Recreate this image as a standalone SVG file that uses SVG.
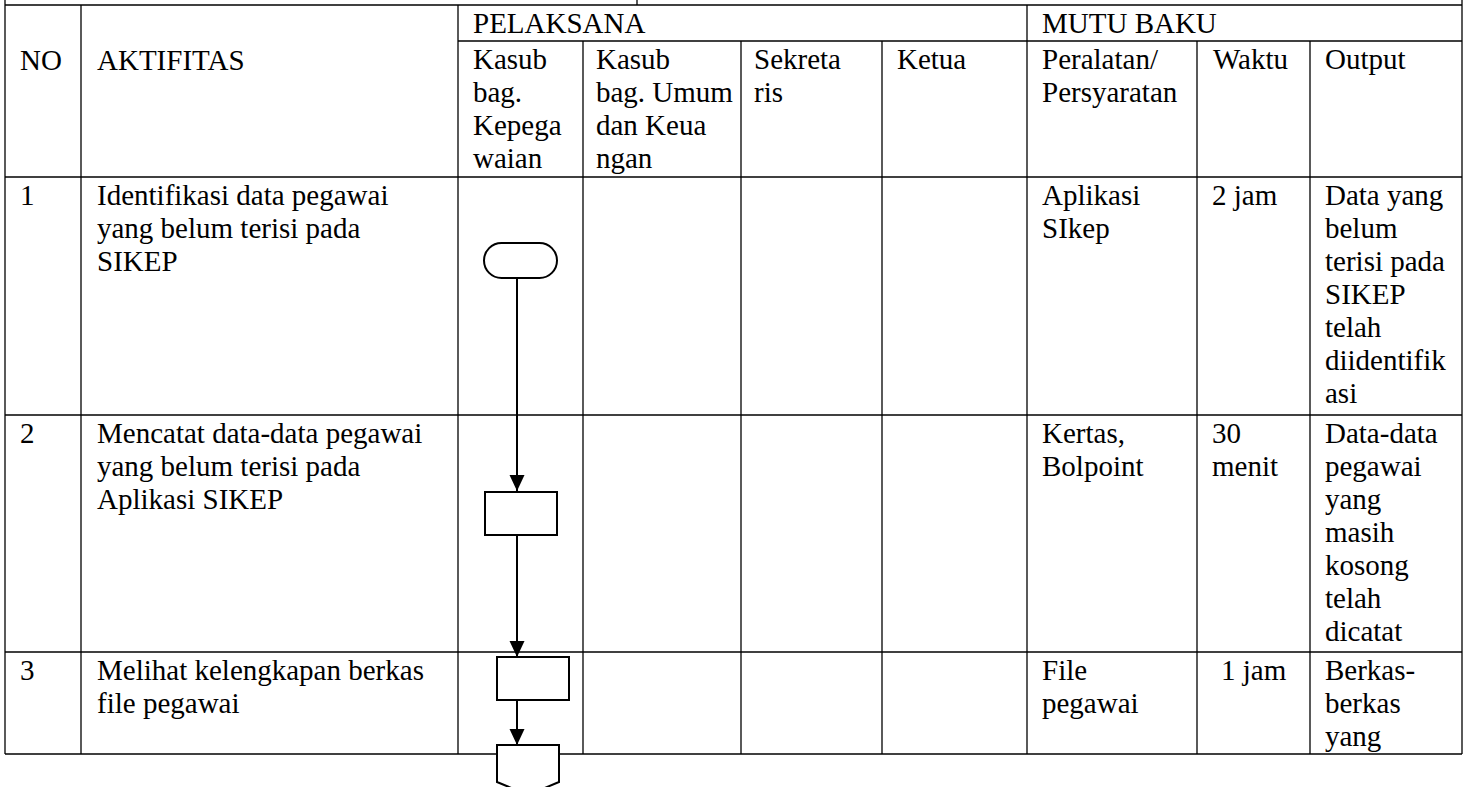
<svg xmlns="http://www.w3.org/2000/svg" width="1469" height="787" viewBox="0 0 1469 787">
<style>
.t{font-family:"Liberation Serif","Times New Roman",serif;font-size:29px;fill:#000}
.g{stroke:#000;stroke-width:1.3;fill:none}
.s{stroke:#000;stroke-width:2;fill:#fff}
.c{stroke:#000;stroke-width:2;fill:none}
</style>
<defs>
<marker id="ah" markerUnits="userSpaceOnUse" markerWidth="16" markerHeight="16" refX="16" refY="7.5" orient="auto">
<path d="M0,0 L16,7.5 L0,15 z" fill="#000"/>
</marker>
</defs>
<rect width="1469" height="787" fill="#fff"/>
<g id="table" class="g">
<line x1="5" y1="0" x2="5" y2="754"/>
<line x1="1462" y1="0" x2="1462" y2="754"/>
<line x1="637" y1="0" x2="637" y2="5"/>
<line x1="5" y1="5" x2="1462" y2="5"/>
<line x1="458" y1="41" x2="1462" y2="41"/>
<line x1="5" y1="177" x2="1462" y2="177"/>
<line x1="5" y1="415" x2="1462" y2="415"/>
<line x1="5" y1="652" x2="1462" y2="652"/>
<line x1="5" y1="754" x2="1462" y2="754"/>
<line x1="81" y1="5" x2="81" y2="754"/>
<line x1="458" y1="5" x2="458" y2="754"/>
<line x1="1027" y1="5" x2="1027" y2="754"/>
<line x1="583" y1="41" x2="583" y2="754"/>
<line x1="741" y1="41" x2="741" y2="754"/>
<line x1="882" y1="41" x2="882" y2="754"/>
<line x1="1197" y1="41" x2="1197" y2="754"/>
<line x1="1310" y1="41" x2="1310" y2="754"/>
</g>
<g id="header" class="t">
<text x="20" y="70">NO</text>
<text x="97" y="70">AKTIFITAS</text>
<text x="473" y="33">PELAKSANA</text>
<text x="1042" y="33">MUTU BAKU</text>
<text x="473" y="69">Kasub</text>
<text x="473" y="102">bag.</text>
<text x="473" y="135">Kepega</text>
<text x="473" y="168">waian</text>
<text x="596" y="69">Kasub</text>
<text x="596" y="102">bag. Umum</text>
<text x="596" y="135">dan Keua</text>
<text x="596" y="168">ngan</text>
<text x="754" y="69">Sekreta</text>
<text x="754" y="102">ris</text>
<text x="897" y="69">Ketua</text>
<text x="1042" y="69">Peralatan/</text>
<text x="1042" y="102">Persyaratan</text>
<text x="1213" y="69">Waktu</text>
<text x="1325" y="69">Output</text>
</g>
<g id="row1" class="t">
<text x="20" y="205">1</text>
<text x="97" y="205">Identifikasi data pegawai</text>
<text x="97" y="238">yang belum terisi pada</text>
<text x="97" y="271">SIKEP</text>
<text x="1042" y="205">Aplikasi</text>
<text x="1042" y="238">SIkep</text>
<text x="1212" y="205">2 jam</text>
<text x="1325" y="205">Data yang</text>
<text x="1325" y="238">belum</text>
<text x="1325" y="271">terisi pada</text>
<text x="1325" y="304">SIKEP</text>
<text x="1325" y="337">telah</text>
<text x="1325" y="370">diidentifik</text>
<text x="1325" y="403">asi</text>
</g>
<g id="row2" class="t">
<text x="20" y="443">2</text>
<text x="97" y="443">Mencatat data-data pegawai</text>
<text x="97" y="476">yang belum terisi pada</text>
<text x="97" y="509">Aplikasi SIKEP</text>
<text x="1042" y="443">Kertas,</text>
<text x="1042" y="476">Bolpoint</text>
<text x="1212" y="443">30</text>
<text x="1212" y="476">menit</text>
<text x="1325" y="443">Data-data</text>
<text x="1325" y="476">pegawai</text>
<text x="1325" y="509">yang</text>
<text x="1325" y="542">masih</text>
<text x="1325" y="575">kosong</text>
<text x="1325" y="608">telah</text>
<text x="1325" y="641">dicatat</text>
</g>
<g id="row3" class="t">
<text x="20" y="680">3</text>
<text x="97" y="680">Melihat kelengkapan berkas</text>
<text x="97" y="713">file pegawai</text>
<text x="1042" y="680">File</text>
<text x="1042" y="713">pegawai</text>
<text x="1221" y="680">1 jam</text>
<text x="1325" y="680">Berkas-</text>
<text x="1325" y="713">berkas</text>
<text x="1325" y="746">yang</text>
</g>
<g id="connectors" class="c">
<line x1="517" y1="278" x2="517" y2="491" marker-end="url(#ah)"/>
<line x1="517" y1="535" x2="517" y2="657" marker-end="url(#ah)"/>
<line x1="517" y1="700" x2="517" y2="745" marker-end="url(#ah)"/>
</g>
<g id="node-start">
<rect class="s" x="484" y="243" width="73" height="35" rx="17.5" ry="17.5"/>
</g>
<g id="node-process1">
<rect class="s" x="485" y="492" width="72" height="43"/>
</g>
<g id="node-process2">
<rect class="s" x="497" y="657" width="72" height="43"/>
</g>
<g id="node-offpage">
<path class="s" d="M497,745 L559,745 L559,782 L528,795 L497,782 Z"/>
</g>
</svg>
